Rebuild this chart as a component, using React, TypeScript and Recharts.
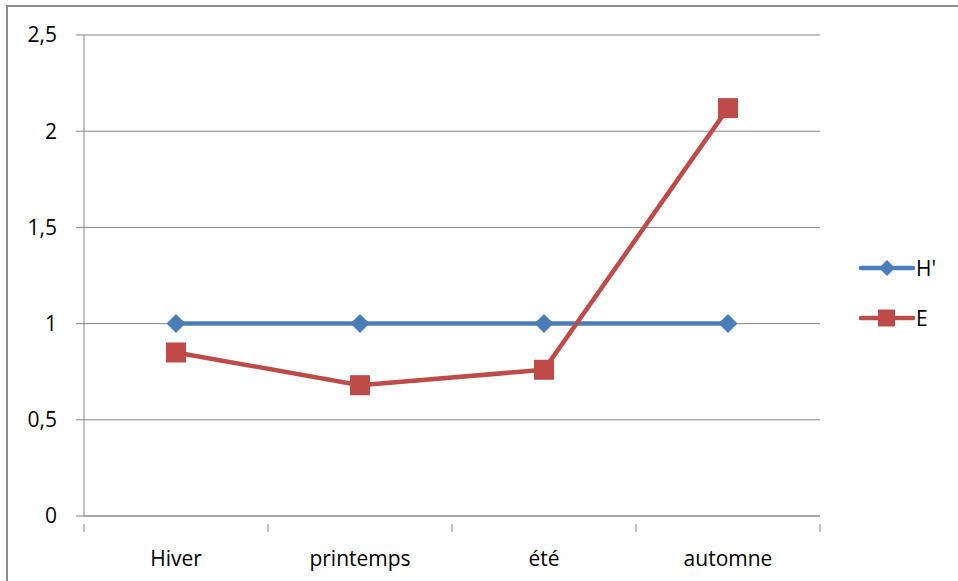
import React from 'react';
import { LineChart, Line, XAxis, YAxis, CartesianGrid } from 'recharts';

const categories = ['Hiver', 'printemps', 'été', 'automne'];
const hPrime = [1, 1, 1, 1];
const eValues = [0.85, 0.68, 0.76, 2.12];
const yTicks = [0, 0.5, 1, 1.5, 2, 2.5];
const seriesNames = ["H'", 'E'];

const data = categories.map((c, i) => ({ name: c, h: hPrime[i], e: eValues[i] }));

const BLUE = '#4A7EBB';
const RED = '#BE4B48';
const GRID = '#868686';
const FONT = '"Open Sans", "Noto Sans", sans-serif';
const FS = 21;
const LW = 4.5;

const W = 958;
const H = 581;
const M = { top: 35, right: 138, bottom: 0, left: 0 };
const YW = 84;
const XH = 65;
const BAND = (W - M.left - M.right - YW) / categories.length;

const Diamond = (props: any) => {
  const { cx, cy } = props;
  if (cx == null || cy == null) return null;
  const r = 9.5;
  return <polygon points={`${cx},${cy - r} ${cx + r},${cy} ${cx},${cy + r} ${cx - r},${cy}`} fill={BLUE} />;
};

const Square = (props: any) => {
  const { cx, cy } = props;
  if (cx == null || cy == null) return null;
  const s = 10;
  return <rect x={cx - s} y={cy - s} width={2 * s} height={2 * s} fill={RED} />;
};

const XTick = (props: any) => {
  const { x, y, payload, index } = props;
  const half = BAND / 2;
  return (
    <g>
      <line x1={x - half} y1={y} x2={x - half} y2={y + 8} stroke={GRID} strokeWidth={1} />
      {index === categories.length - 1 && (
        <line x1={x + half} y1={y} x2={x + half} y2={y + 8} stroke={GRID} strokeWidth={1} />
      )}
      <text x={x} y={y + 42} textAnchor="middle" fontSize={FS} fill="#000" fontFamily={FONT}>
        {payload.value}
      </text>
    </g>
  );
};

const fmt = (v: number) => String(v).replace('.', ',');

const LegendBox = () => {
  const items = [
    { label: seriesNames[0], color: BLUE, shape: 'diamond' },
    { label: seriesNames[1], color: RED, shape: 'square' },
  ];
  return (
    <svg width={98} height={80} style={{ position: 'absolute', left: 858, top: 256, overflow: 'visible' }}>
      {items.map((it, i) => {
        const cy = 12 + i * 50;
        return (
          <g key={it.label}>
            <line x1={3} y1={cy} x2={55} y2={cy} stroke={it.color} strokeWidth={LW} strokeLinecap="round" />
            {it.shape === 'diamond' ? (
              <polygon points={`29,${cy - 8} 37,${cy} 29,${cy + 8} 21,${cy}`} fill={it.color} />
            ) : (
              <rect x={20} y={cy - 8.5} width={17} height={17} fill={it.color} />
            )}
            <text x={58} y={cy + 7.5} fontSize={FS} fontFamily={FONT} fill="#000">{it.label}</text>
          </g>
        );
      })}
    </svg>
  );
};

export default function App() {
  return (
    <div style={{ position: 'absolute', left: 0, top: 0, width: W, height: H, background: '#fff' }}>
      <div style={{ position: 'absolute', left: 0, top: 0 }}>
        <LineChart width={W} height={H} data={data} margin={M}>
          <CartesianGrid vertical={false} stroke={GRID} strokeWidth={1} />
          <XAxis
            dataKey="name"
            axisLine={{ stroke: GRID }}
            tickLine={false}
            tick={<XTick />}
            interval={0}
            height={XH}
            padding={{ left: BAND / 2, right: BAND / 2 }}
          />
          <YAxis
            domain={[0, 2.5]}
            ticks={yTicks}
            width={YW}
            axisLine={{ stroke: GRID }}
            tickLine={{ stroke: GRID }}
            tickSize={8}
            tickMargin={19}
            tickFormatter={fmt}
            tick={{ fontSize: FS, fill: '#000', fontFamily: FONT }}
          />
          <Line dataKey="h" name={seriesNames[0]} stroke={BLUE} strokeWidth={LW} dot={<Diamond />} activeDot={false} isAnimationActive={false} />
          <Line dataKey="e" name={seriesNames[1]} stroke={RED} strokeWidth={LW} dot={<Square />} activeDot={false} isAnimationActive={false} />
        </LineChart>
      </div>
      <LegendBox />
      <div style={{ position: 'absolute', left: 6, top: 5, width: W - 6, height: H - 5, borderTop: '2px solid #8c8c8c', borderLeft: '2px solid #8c8c8c', pointerEvents: 'none' }} />
    </div>
  );
}
